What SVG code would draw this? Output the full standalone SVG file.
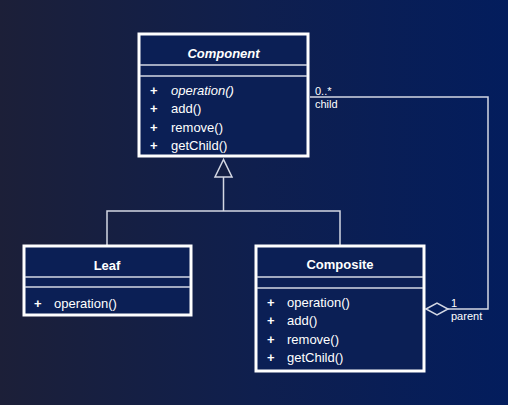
<svg xmlns="http://www.w3.org/2000/svg" width="508" height="405" viewBox="0 0 508 405">
<defs>
<linearGradient id="bg" x1="0" y1="0" x2="1" y2="0">
<stop offset="0" stop-color="#1c1f38"/>
<stop offset="0.5" stop-color="#0f1f4e"/>
<stop offset="1" stop-color="#031d5d"/>
</linearGradient>
<style>
.box{fill:#0b1f55;stroke:#ffffff;stroke-width:3}
.sep{stroke:#d4d8e4;stroke-width:1.5}
.ln{fill:none;stroke:#d4d8e4;stroke-width:1.5}
text{font-family:"Liberation Sans",Arial,sans-serif;fill:#ffffff}
.t{font-size:13px;font-weight:bold;text-anchor:middle}
.m{font-size:13px}
.p{font-size:13px;font-weight:bold}
.lb{font-size:11px}
</style>
</defs>
<rect width="508" height="405" fill="url(#bg)"/>
<g id="connectors">
<polyline class="ln" points="223.5,177 223.5,211"/>
<polyline class="ln" points="107,246 107,211 340,211 340,246"/>
<polygon points="223.5,159.5 215,177 232,177" fill="#141f44" stroke="#d4d8e4" stroke-width="1.5"/>
<polyline class="ln" points="310,97 488,97 488,309 448,309"/>
<polygon points="426,309 437,303 448,309 437,315" fill="#041d5a" stroke="#d4d8e4" stroke-width="1.5"/>
<text class="lb" x="315" y="95">0..*</text>
<text class="lb" x="315" y="108">child</text>
<text class="lb" x="451" y="307">1</text>
<text class="lb" x="451" y="320">parent</text>
</g>
<g id="component">
<rect class="box" x="139" y="34" width="169" height="122"/>
<line class="sep" x1="140" y1="65" x2="307" y2="65"/>
<line class="sep" x1="140" y1="76" x2="307" y2="76"/>
<text class="t" x="223.5" y="58" font-style="italic">Component</text>
<text class="p" x="150" y="94.5">+</text><text class="m" x="171" y="94.5" font-style="italic">operation()</text>
<text class="p" x="150" y="113">+</text><text class="m" x="171" y="113">add()</text>
<text class="p" x="150" y="131.5">+</text><text class="m" x="171" y="131.5">remove()</text>
<text class="p" x="150" y="150">+</text><text class="m" x="171" y="150">getChild()</text>
</g>
<g id="leaf">
<rect class="box" x="24" y="246" width="167" height="69"/>
<line class="sep" x1="25" y1="277" x2="190" y2="277"/>
<line class="sep" x1="25" y1="287" x2="190" y2="287"/>
<text class="t" x="107" y="270">Leaf</text>
<text class="p" x="34" y="307.5">+</text><text class="m" x="54" y="307.5">operation()</text>
</g>
<g id="composite">
<rect class="box" x="256" y="246" width="168" height="125"/>
<line class="sep" x1="257" y1="277" x2="423" y2="277"/>
<line class="sep" x1="257" y1="288" x2="423" y2="288"/>
<text class="t" x="340" y="269">Composite</text>
<text class="p" x="267" y="306.5">+</text><text class="m" x="287" y="306.5">operation()</text>
<text class="p" x="267" y="325">+</text><text class="m" x="287" y="325">add()</text>
<text class="p" x="267" y="343.5">+</text><text class="m" x="287" y="343.5">remove()</text>
<text class="p" x="267" y="362">+</text><text class="m" x="287" y="362">getChild()</text>
</g>
</svg>
